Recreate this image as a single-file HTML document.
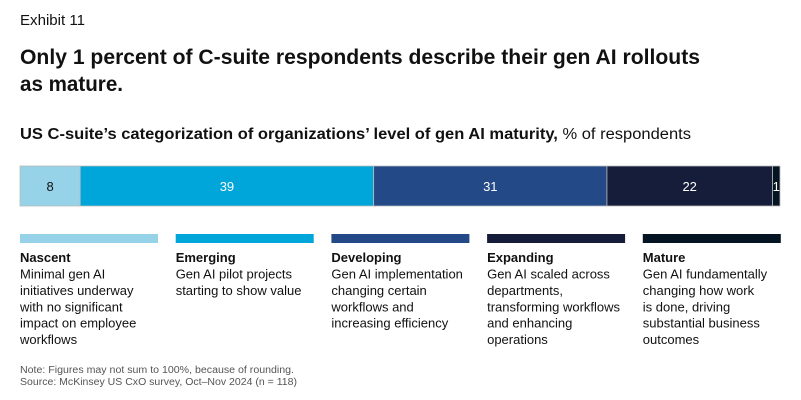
<!DOCTYPE html>
<html><head><meta charset="utf-8"><style>
html,body{margin:0;padding:0;background:#fff;}
svg{display:block;font-family:"Liberation Sans",sans-serif;}
</style></head><body>
<svg id="chart" width="801" height="400" viewBox="0 0 801 400">
<text x="20" y="25" font-size="15" fill="#111" textLength="65" lengthAdjust="spacingAndGlyphs">Exhibit 11</text>
<text x="20" y="64" font-size="21" font-weight="bold" fill="#111" textLength="680" lengthAdjust="spacingAndGlyphs">Only 1 percent of C-suite respondents describe their gen AI rollouts</text>
<text x="20" y="91" font-size="21" font-weight="bold" fill="#111" textLength="103" lengthAdjust="spacingAndGlyphs">as mature.</text>
<text x="20" y="139" font-size="15.5" fill="#111" textLength="671" lengthAdjust="spacingAndGlyphs"><tspan font-weight="bold">US C-suite’s categorization of organizations’ level of gen AI maturity,</tspan> % of respondents</text>
<g id="bars"></g>
<g id="legend"></g>
<text x="20" y="373" font-size="10" fill="#555" textLength="274" lengthAdjust="spacingAndGlyphs">Note: Figures may not sum to 100%, because of rounding.</text>
<text x="20" y="385" font-size="10" fill="#555" textLength="277" lengthAdjust="spacingAndGlyphs">Source: McKinsey US CxO survey, Oct–Nov 2024 (n = 118)</text>
</svg>
<script>
const categories = ["Nascent","Emerging","Developing","Expanding","Mature"];
const values = [8,39,31,22,1];
const descriptions = [
 ["Minimal gen AI","initiatives underway","with no significant","impact on employee","workflows"],
 ["Gen AI pilot projects","starting to show value"],
 ["Gen AI implementation","changing certain","workflows and","increasing efficiency"],
 ["Gen AI scaled across","departments,","transforming workflows","and enhancing","operations"],
 ["Gen AI fundamentally","changing how work","is done, driving","substantial business","outcomes"]
];
const colors = ["#96d3e9","#00a5d9","#234a87","#151d3b","#051423"];
const textColors = ["#111","#fff","#fff","#fff","#fff"];
const NS = "http://www.w3.org/2000/svg";
const x0 = 20, x1 = 780, barY = 166, barH = 40;
const total = values.reduce((a,b)=>a+b,0);
const xScale = v => x0 + (x1 - x0) * v / total;
const bars = document.getElementById("bars");
let cum = 0;
values.forEach((v,i)=>{
  const xs = xScale(cum), xe = xScale(cum+v);
  const r = document.createElementNS(NS,"rect");
  r.setAttribute("x",xs); r.setAttribute("y",barY);
  r.setAttribute("width",xe-xs); r.setAttribute("height",barH);
  r.setAttribute("fill",colors[i]); r.setAttribute("stroke","#bbb"); r.setAttribute("stroke-width","0.8");
  
  
  bars.appendChild(r);
  const t = document.createElementNS(NS,"text");
  t.setAttribute("x",(xs+xe)/2); t.setAttribute("y",barY+barH/2+5);
  t.setAttribute("text-anchor","middle"); t.setAttribute("font-size","13");
  t.setAttribute("fill",textColors[i]); t.textContent = values[i];
  
  
  bars.appendChild(t);
  cum += v;
});
const legend = document.getElementById("legend");
categories.forEach((c,i)=>{
  const lx = 20 + i*155.7;
  const g = document.createElementNS(NS,"g");
  
  
  const r = document.createElementNS(NS,"rect");
  r.setAttribute("x",lx); r.setAttribute("y",234); r.setAttribute("width",138); r.setAttribute("height",9);
  r.setAttribute("fill",colors[i]);
  
  
  g.appendChild(r);
  const h = document.createElementNS(NS,"text");
  h.setAttribute("x",lx); h.setAttribute("y",262); h.setAttribute("font-size","13");
  h.setAttribute("font-weight","bold"); h.setAttribute("fill","#111"); h.textContent = c;
  
  
  g.appendChild(h);
  descriptions[i].forEach((line,j)=>{
    const t = document.createElementNS(NS,"text");
    t.setAttribute("x",lx); t.setAttribute("y",278.5 + j*16.4); t.setAttribute("font-size","13");
    t.setAttribute("fill","#111"); t.textContent = line;
    
    
    g.appendChild(t);
  });
  legend.appendChild(g);
});
</script>
</body></html>
